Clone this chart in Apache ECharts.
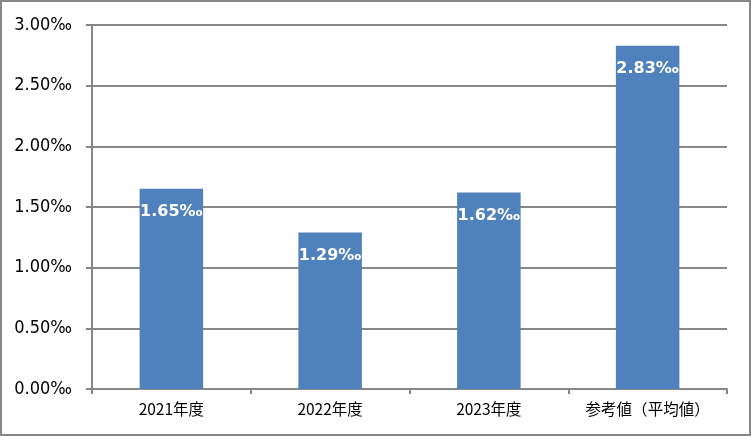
<!DOCTYPE html>
<html><head><meta charset="utf-8">
<script src="https://cdn.jsdelivr.net/npm/echarts@6/dist/echarts.min.js"></script>
<style>html,body{margin:0;padding:0;background:#fff}#c{width:751px;height:436px;box-sizing:border-box;border:2px solid #878787}</style>
</head><body><div id="c"></div>
<script>
var categories = ['2021年度', '2022年度', '2023年度', '参考値(平均値)'];
var values = [1.65, 1.29, 1.62, 2.83];
var yTicks = [0, 0.5, 1.0, 1.5, 2.0, 2.5, 3.0];
var chart = echarts.init(document.getElementById('c'));
chart.setOption({
  animation: false,
  grid: {left: 90, right: 22, top: 23, bottom: 45},
  xAxis: {
    type: 'category', data: categories,
    axisLine: {lineStyle: {color: '#878787', width: 2}},
    axisTick: {show: true, interval: 0, length: 5, lineStyle: {color: '#878787', width: 2}},
    axisLabel: {interval: 0, color: '#000', fontSize: 15.5, fontFamily: 'Noto Sans CJK JP', margin: 12,
      formatter: function(v){ return v.replace('(', '（').replace(')', '）'); }}
  },
  yAxis: {
    type: 'value', min: 0, max: 3, interval: 0.5,
    axisLine: {show: true, lineStyle: {color: '#878787', width: 2}},
    axisTick: {show: true, length: 6, lineStyle: {color: '#878787', width: 2}},
    splitLine: {lineStyle: {color: '#878787', width: 2}},
    axisLabel: {color: '#000', fontSize: 18, fontFamily: 'DejaVu Sans Condensed, Liberation Sans', margin: 20,
      formatter: function(v){ return v.toFixed(2) + '‰'; }}
  },
  series: [{
    type: 'bar', data: values, barWidth: '40%',
    itemStyle: {color: '#4F81BD'},
    label: {show: true, position: 'insideTop', distance: 15, color: '#fff', fontWeight: 'bold',
      fontSize: 16, fontFamily: 'DejaVu Sans',
      formatter: function(p){ return p.value.toFixed(2) + '‰'; }}
  }]
});
</script></body></html>
